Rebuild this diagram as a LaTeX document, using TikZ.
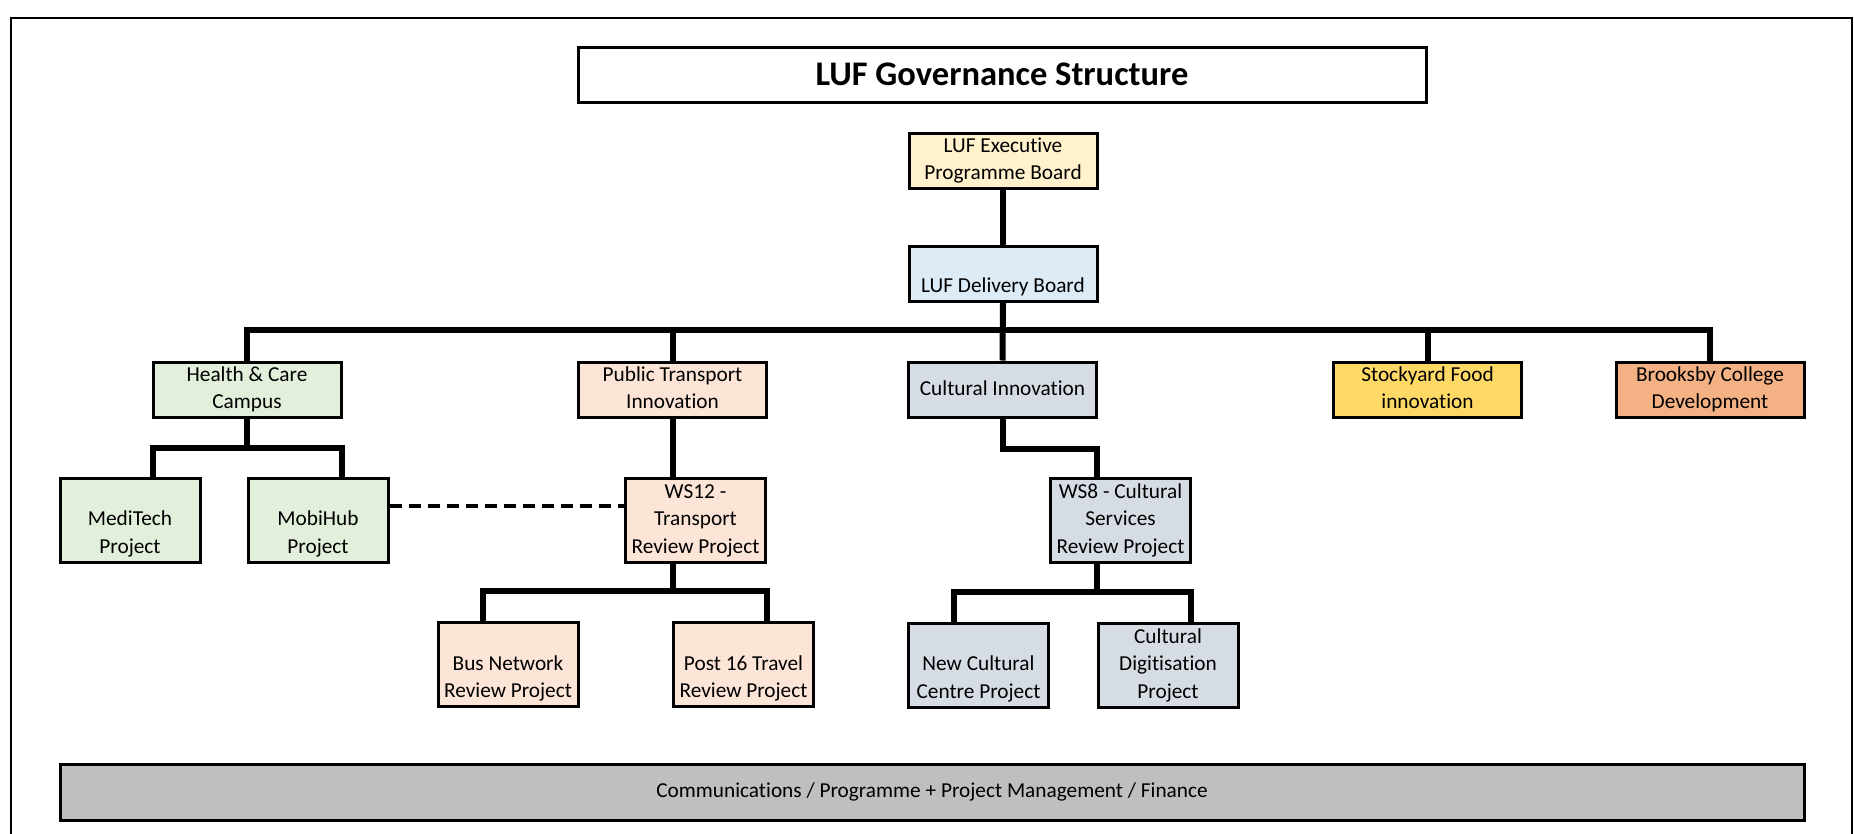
\documentclass[tikz,border=0pt]{standalone}
\usepackage{fontspec}
\setmainfont[Ligatures=NoCommon]{Carlito}
\definecolor{cexec}{HTML}{FFF2CC}
\definecolor{cdel}{HTML}{DDEBF7}
\definecolor{cgreen}{HTML}{E2EFDA}
\definecolor{cpeach}{HTML}{FCE4D6}
\definecolor{cgrey}{HTML}{D6DCE4}
\definecolor{cyell}{HTML}{FFD966}
\definecolor{corange}{HTML}{F4B183}
\definecolor{cbar}{HTML}{BFBFBF}
\begin{document}
\begin{tikzpicture}[x=1pt,y=-1pt,
  box/.style={draw=black, line width=3pt, inner sep=0pt, align=center,
    font=\fontsize{21.3}{27.5}\selectfont},
  topbox/.style={box, minimum width=188pt, minimum height=55pt},
  subbox/.style={box, minimum width=140pt, minimum height=84pt},
  conn/.style={line width=6pt, line join=miter},
  dashconn/.style={line width=4pt, dash pattern=on 12pt off 7pt}]
\path[use as bounding box, clip] (0,0) rectangle (1854,833);
% outer frame
\draw[line width=2.5pt] (11,850) -- (11,18) -- (1852,18) -- (1852,850);
% title
\node[draw=black, line width=3pt, minimum width=848pt, minimum height=55pt, inner sep=0pt,
  font=\fontsize{34.5}{40}\selectfont\bfseries] (title) at (1002,74.5) {\raisebox{-2pt}{LUF Governance Structure}};
% level nodes
\node[topbox, fill=cexec] (exec) at (1003,160.5) {\strut LUF Executive\\\strut Programme Board};
\node[topbox, fill=cdel] (deliv) at (1003,273.5) {\strut\\\strut LUF Delivery Board};
\node[topbox, fill=cgreen] (health) at (247,389.5) {\strut Health \& Care\\\strut Campus};
\node[topbox, fill=cpeach] (pt) at (672.5,389.5) {\strut Public Transport\\\strut Innovation};
\node[topbox, fill=cgrey] (ci) at (1002.5,389.5) {\strut Cultural Innovation};
\node[topbox, fill=cyell] (stock) at (1427.5,389.5) {\strut Stockyard Food\\\strut innovation};
\node[topbox, fill=corange] (brooks) at (1710,389.5) {\strut Brooksby College\\\strut Development};
% second level
\node[subbox, fill=cgreen] (medi) at (130,520) {\strut\\\strut MediTech\\\strut Project};
\node[subbox, fill=cgreen] (mobi) at (318,520) {\strut\\\strut MobiHub\\\strut Project};
\node[subbox, fill=cpeach] (ws12) at (695.5,520) {\strut WS12 -\\\strut Transport\\\strut Review Project};
\node[subbox, fill=cgrey] (ws8) at (1120.5,520) {\strut WS8 - Cultural\\\strut Services\\\strut Review Project};
% third level
\node[subbox, fill=cpeach] (busn) at (508,664.5) {\strut\\\strut Bus Network\\\strut Review Project};
\node[subbox, fill=cpeach] (post) at (743.5,664.5) {\strut\\\strut Post 16 Travel\\\strut Review Project};
\node[subbox, fill=cgrey] (newc) at (978.5,665) {\strut\\\strut New Cultural\\\strut Centre Project};
\node[subbox, fill=cgrey] (digit) at (1168,665) {\strut Cultural\\\strut Digitisation\\\strut Project};
% bottom bar
\node[box, fill=cbar, minimum width=1744pt, minimum height=56pt] (bar) at (932,792)
  {Communications / Programme + Project Management / Finance};
% connectors
\draw[conn] (exec.south) -- (deliv.north);
\draw[conn] (deliv.south) -- (ci.north);
\draw[conn] (health.north) -- ++(0,-31) -| (brooks.north);
\draw[conn] (pt.north) -- ++(0,-31);
\draw[conn] (stock.north) -- ++(0,-31);
\draw[conn] (health.south) -- ++(0,30);
\draw[conn] ([xshift=23pt]medi.north) -- ++(0,-29) -| ([xshift=24pt]mobi.north);
\draw[conn] (pt.south) -- (pt.south |- ws12.north);
\draw[conn] (pt.south |- ws12.south) -- ++(0,29);
\draw[conn] ([xshift=-25pt]busn.north) -- ++(0,-30) -| ([xshift=23.5pt]post.north);
\draw[conn] (ci.south) -- ++(0,30) -| ([xshift=-23.5pt]ws8.north);
\draw[conn] ([xshift=-23.5pt]ws8.south) -- ++(0,29.5);
\draw[conn] ([xshift=-24.5pt]newc.north) -- ++(0,-29.5) -| ([xshift=23pt]digit.north);
\draw[dashconn] ([yshift=14pt]mobi.east) -- ([yshift=14pt]ws12.west);
\end{tikzpicture}
\end{document}
